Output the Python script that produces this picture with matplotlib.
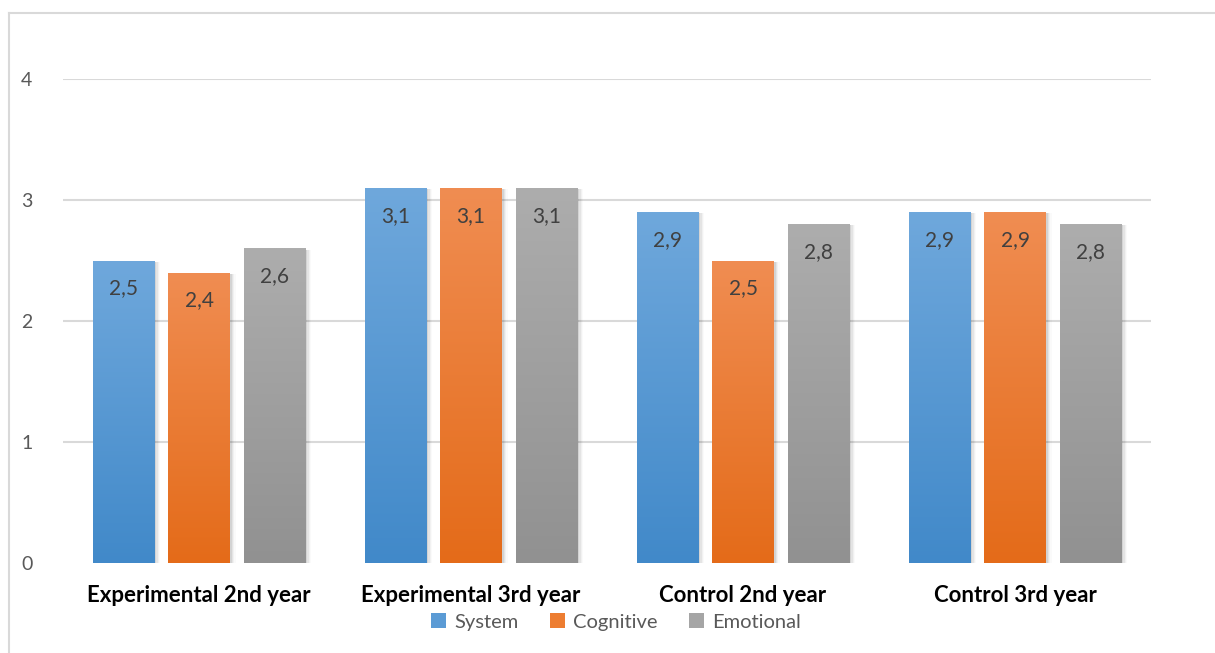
import numpy as np
import matplotlib
matplotlib.use("Agg")
import matplotlib.pyplot as plt
from matplotlib.colors import LinearSegmentedColormap
from matplotlib.lines import Line2D
from matplotlib.patches import Rectangle

categories = ["Experimental 2nd year", "Experimental 3rd year", "Control 2nd year", "Control 3rd year"]
series_names = ["System", "Cognitive", "Emotional"]
system = [2.5, 3.1, 2.9, 2.9]
cognitive = [2.4, 3.1, 2.5, 2.9]
emotional = [2.6, 3.1, 2.8, 2.8]
values = [system, cognitive, emotional]
yticks = [0, 1, 2, 3, 4]

tops = ["#6fa8dc", "#f08d52", "#adadad"]
bottoms = ["#4189c9", "#e46b19", "#919191"]
legend_cols = ["#5b9bd5", "#ed7d31", "#a5a5a5"]

plt.rcParams['font.family'] = ['Lato', 'DejaVu Sans']

fig = plt.figure(figsize=(12.15, 6.53), dpi=100)
W, H = 1215, 653
ax = fig.add_axes([63 / W, 1 - 563 / H, (1151 - 63) / W, (563 - 79) / H])

# figure border
fig.add_artist(Line2D([9 / W, 1.0], [1 - 13 / H, 1 - 13 / H], color="#d9d9d9", lw=1.5, transform=fig.transFigure))
fig.add_artist(Line2D([9 / W, 9 / W], [0, 1 - 13 / H], color="#d9d9d9", lw=1.5, transform=fig.transFigure))

x = np.arange(len(categories))
bw = 62 / 272
step = 75.5 / 272
grad = np.linspace(1, 0, 256).reshape(-1, 1)

for i, vals in enumerate(values):
    offs = x + (i - 1) * step
    cmap = LinearSegmentedColormap.from_list("g%d" % i, [bottoms[i], tops[i]])
    bars = ax.bar(offs, vals, width=bw, color="none", edgecolor="none", zorder=3)
    for b, v in zip(bars, vals):
        x0 = b.get_x()
        # soft shadow (right/bottom)
        for k, a in enumerate([0.07, 0.05, 0.035, 0.02]):
            d = (k + 1) * 1.3 / 272
            sh = Rectangle((x0 + 0.5 / 272, 0), bw + d, v - 0.01, facecolor="black", alpha=a,
                           edgecolor="none", zorder=2)
            ax.add_patch(sh)
        im = ax.imshow(grad, extent=[x0, x0 + bw, 0, v], aspect="auto", cmap=cmap, zorder=3,
                       interpolation="bilinear")
        im.set_clip_path(b)
        ax.text(x0 + bw / 2, v - 0.23, f"{v:.1f}".replace(".", ","), ha="center", va="center",
                fontsize=15, color="#404040", zorder=5)

ax.set_xlim(-0.5, 3.5)
ax.set_ylim(0, 4)
ax.set_aspect("auto")
ax.set_yticks(yticks)
ax.set_yticklabels([str(t) for t in yticks])
for t in yticks[1:]:
    ax.axhline(t, color="#d9d9d9", lw=1.5, zorder=1)
ax.set_xticks(x)
ax.set_xticklabels(categories, fontsize=16, fontweight="bold", color="black")
for s in ax.spines.values():
    s.set_visible(False)
ax.tick_params(axis="both", length=0)
ax.tick_params(axis="y", labelsize=14, labelcolor="#595959", pad=22)
ax.tick_params(axis="x", pad=16)

handles = [Rectangle((0, 0), 1, 1, facecolor=c) for c in legend_cols]
leg = fig.legend(handles, series_names, loc="center", bbox_to_anchor=(616 / W, 1 - 622 / H), ncol=3,
                 frameon=False, fontsize=14.5, handlelength=0.75, handleheight=0.75, handletextpad=0.4,
                 columnspacing=1.55, labelcolor="#595959")

fig.savefig("out.png", dpi=100, facecolor="white")
